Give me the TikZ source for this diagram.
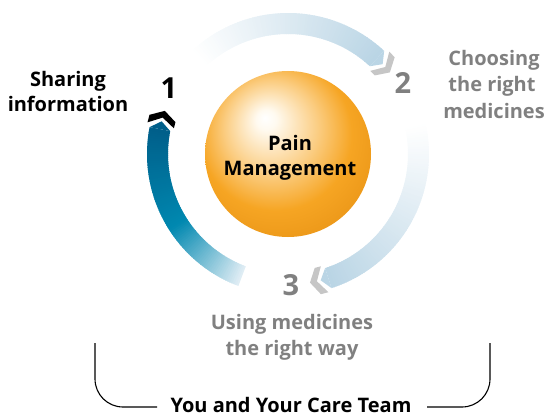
\documentclass[tikz,border=0pt]{standalone}
\usepackage{fontspec}
\setmainfont{Open Sans}

\definecolor{txtgrey}{RGB}{128,128,128}
\definecolor{chevgrey}{RGB}{198,198,198}
\definecolor{paleblue}{RGB}{186,213,229}
\definecolor{tealA}{RGB}{226,238,245}
\definecolor{tealB}{RGB}{0,136,176}
\definecolor{tealC}{RGB}{0,95,138}
\definecolor{orbA}{RGB}{255,250,240}
\definecolor{orbB}{RGB}{251,205,130}
\definecolor{orbC}{RGB}{246,165,35}
\definecolor{orbD}{RGB}{236,152,25}
\definecolor{orbE}{RGB}{205,128,18}

% glossy orange ball, highlight towards the upper left
\pgfdeclareradialshading{orb}{\pgfpoint{-7bp}{11bp}}{%
  color(0bp)=(white); color(3bp)=(orbA); color(14bp)=(orbB);
  color(23bp)=(orbC); color(31bp)=(orbD); color(38bp)=(orbE);
  color(50bp)=(orbE)}

\def\rin{120pt}
\def\rmid{130.5pt}
\def\rout{141pt}

% ring band between two angles, colour blended from #3 to #4 in #5 pieces
\newcommand\ringpart[5]{%
  \foreach \k in {1,...,#5}{%
    \pgfmathsetmacro\angA{#1+(#2-#1)*(\k-1)/#5-0.4*sign(#2-#1)}%
    \pgfmathsetmacro\angB{#1+(#2-#1)*\k/#5}%
    \pgfmathsetmacro\mixp{100*(\k-0.5)/#5}%
    \fill[#4!\mixp!#3] (\angA:\rin) arc[start angle=\angA,end angle=\angB,radius=\rin]
      -- (\angB:\rout) arc[start angle=\angB,end angle=\angA,radius=\rout] -- cycle;
  }}

% pointed end of a clockwise band at angle #1
\newcommand\ringtip[2]{%
  \fill[#2] (#1:\rin) -- ({#1-3.5}:\rmid) -- (#1:\rout) -- cycle;}

% chevron in front of a clockwise band, arms starting at angle #1
\newcommand\ringchevron[2]{%
  \fill[#2] (#1:117pt) -- ({#1-3.5}:\rmid) -- (#1:144pt)
    -- ({#1-3.1}:144pt) -- ({#1-6.6}:\rmid) -- ({#1-3.1}:117pt) -- cycle;}

\begin{document}
\begin{tikzpicture}[x=1pt,y=1pt]
\useasboundingbox (0,0) rectangle (546,416);
\tikzset{
  caption/.style={inner sep=0pt, anchor=base, font=\fontsize{20}{24}\selectfont\bfseries},
  captiongrey/.style={caption, text=txtgrey},
  stepnum/.style={inner sep=0pt, anchor=base, font=\fontsize{29}{32}\selectfont\bfseries},
  bracketline/.style={draw=black, line width=1.1pt, rounded corners=28pt},
}

% the cycle ring
\begin{scope}[shift={(288,262)}]
  % step 1: teal band, sweeping up the left side
  \ringpart{249}{212}{tealA}{tealB}{40}
  \ringpart{212}{169}{tealB}{tealC}{45}
  \ringtip{169}{tealC}
  \ringchevron{167.3}{black}
  % step 2: pale band over the top
  \ringpart{132}{47}{white}{paleblue}{80}
  \ringtip{47}{paleblue}
  \ringchevron{45.3}{chevgrey}
  % step 3: pale band down the right side
  \ringpart{12}{-72}{white}{paleblue}{80}
  \ringtip{-72}{paleblue}
  \ringchevron{-73.7}{chevgrey}
\end{scope}

% central ball
\node[circle, minimum size=166pt, inner sep=0pt, shading=orb] (orb) at (288,262) {};
\node[caption] (pain) at (290,266) {Pain};
\node[caption] (mgmt) at (290,241) {Management};

% step numbers
\node[stepnum] (one) at (169,318) {1};
\node[stepnum, text=txtgrey] (two) at (403,323) {2};
\node[stepnum, text=txtgrey] (three) at (291,121) {3};

% step captions
\node[caption] (share1) at (68,330) {Sharing};
\node[caption] (share2) at (68,305) {information};

\node[captiongrey] (choose1) at (494,350) {Choosing};
\node[captiongrey] (choose2) at (492,324) {the right};
\node[captiongrey] (choose3) at (494,298) {medicines};

\node[captiongrey] (use1) at (292,87) {Using medicines};
\node[captiongrey] (use2) at (292,61) {the right way};

% bracket around the whole cycle
\node[caption] (team) at (291,3.5) {You and Your Care Team};
\coordinate (bl) at (95,73);
\coordinate (blend) at (157,9);
\coordinate (br) at (490,73);
\coordinate (brend) at (427,9);
\draw[bracketline] (bl) |- (blend);
\draw[bracketline] (br) |- (brend);
\end{tikzpicture}
\end{document}
